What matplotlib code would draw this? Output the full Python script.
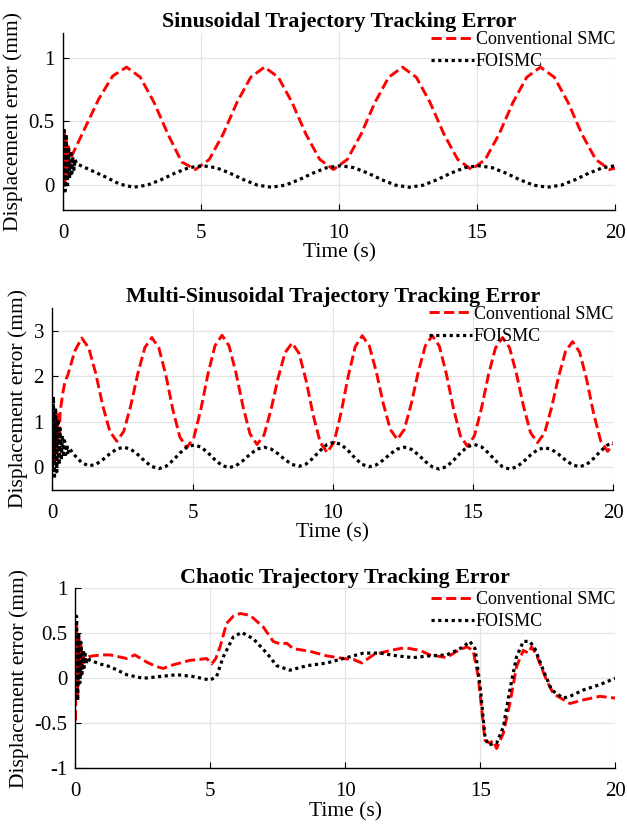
import numpy as np
import matplotlib
matplotlib.use("Agg")
import matplotlib.pyplot as plt
from matplotlib.ticker import FuncFormatter

plt.rcParams['font.family'] = 'Liberation Serif'
plt.rcParams['axes.unicode_minus'] = False

# ---------------- Sinusoidal trajectory ----------------
sin_red_chat = [0.0, 0.45, 0.03, 0.38, 0.08, 0.30, 0.15]
sin_red = [0.22, 0.45, 0.68, 0.86, 0.93, 0.85, 0.65, 0.40, 0.18, 0.12,
           0.20, 0.40, 0.65, 0.85, 0.93, 0.85, 0.65, 0.40, 0.20, 0.12,
           0.20, 0.40, 0.65, 0.85, 0.93, 0.85, 0.65, 0.40, 0.20, 0.12,
           0.20, 0.40, 0.65, 0.85, 0.93, 0.85, 0.65, 0.40, 0.20, 0.12]
sin_red_end = 0.13

sin_blk_chat = [0.0, 0.43, -0.05, 0.40, 0.0, 0.30, 0.05, 0.27, 0.09, 0.22, 0.12, 0.20, 0.17]
sin_blk = [0.16, 0.11, 0.06, 0.005, -0.02, -0.004, 0.039, 0.091, 0.134, 0.15,
           0.134, 0.091, 0.039, -0.004, -0.02, -0.004, 0.039, 0.091, 0.134, 0.15,
           0.134, 0.091, 0.039, -0.004, -0.02, -0.004, 0.039, 0.091, 0.134, 0.15,
           0.134, 0.091, 0.039, -0.004, -0.02, -0.004, 0.039, 0.091, 0.134]
sin_blk_end = 0.149

# ---------------- Multi-sinusoidal trajectory ----------------
multi_red_chat = [0.0, 1.25, 0.1, 1.2, 0.35, 1.15, 0.6, 1.22]
multi_red_rise_t = [0.38, 0.45]
multi_red_rise = [1.65, 1.88]
multi_red = [2.02, 2.55, 2.84,
             2.62, 2.06, 1.35, 0.79, 0.57,
             0.79, 1.36, 2.06, 2.63, 2.85,
             2.62, 2.02, 1.26, 0.66, 0.43,
             0.66, 1.28, 2.05, 2.67, 2.90,
             2.67, 2.07, 1.33, 0.73, 0.50,
             0.71, 1.27, 1.96, 2.52, 2.73,
             2.50, 1.90, 1.15, 0.55, 0.32,
             0.56, 1.21, 2.00, 2.65, 2.89,
             2.67, 2.10, 1.40, 0.83, 0.61,
             0.83, 1.40, 2.10, 2.67, 2.89,
             2.66, 2.05, 1.30, 0.69, 0.46,
             0.69, 1.29, 2.03, 2.62, 2.85,
             2.63, 2.05, 1.34, 0.76, 0.54,
             0.75, 1.31, 1.99, 2.55, 2.76,
             2.53, 1.93, 1.18, 0.58, 0.35]
multi_red_end = 0.50

multi_blk_chat = [0.0, 1.55, -0.2, 1.3, -0.1, 1.05, 0.05, 0.85, 0.15, 0.7, 0.22, 0.58,
                  0.28, 0.5, 0.32, 0.42]
multi_blk = [0.26, 0.10, 0.03,
             0.06, 0.165, 0.295, 0.40, 0.44,
             0.395, 0.278, 0.132, 0.015, -0.03,
             0.019, 0.149, 0.311, 0.441, 0.49,
             0.443, 0.318, 0.163, 0.038, -0.01,
             0.033, 0.145, 0.285, 0.397, 0.44,
             0.40, 0.295, 0.165, 0.06, 0.02,
             0.07, 0.203, 0.367, 0.50, 0.55,
             0.499, 0.364, 0.196, 0.061, 0.01,
             0.051, 0.158, 0.292, 0.399, 0.44,
             0.394, 0.274, 0.126, 0.006, -0.04,
             0.011, 0.146, 0.314, 0.449, 0.50,
             0.449, 0.314, 0.146, 0.011, -0.04,
             0.005, 0.122, 0.268, 0.385, 0.43,
             0.39, 0.285, 0.155, 0.05, 0.01,
             0.06, 0.193, 0.357, 0.49]
multi_blk_end = 0.535

# ---------------- Chaotic trajectory ----------------
chaos_red_t = [0.0, 0.04, 0.08, 0.12, 0.16, 0.20, 0.24, 0.28, 0.32, 0.40, 0.50,
               0.66, 1.0, 1.28, 1.6, 1.9, 2.2, 2.64, 3.0, 3.25,
               3.62, 4.0, 4.24, 4.6, 4.86, 5.05, 5.2, 5.36, 5.6, 5.85, 6.1, 6.47, 6.96, 7.33,
               7.6, 7.83, 8.07, 8.69, 9.31, 9.93, 10.3, 10.61, 11.04, 11.66, 12.21, 12.77,
               13.14, 13.76, 14.13, 14.5, 14.74, 14.93, 15.18, 15.36, 15.48, 15.61, 15.86,
               16.1, 16.35, 16.6, 16.79, 16.91, 17.09, 17.46, 17.71, 18.33, 18.82, 19.44, 20.0]
chaos_red = [-0.47, 0.65, -0.20, 0.45, 0.0, 0.36, 0.12, 0.30, 0.18, 0.22, 0.24,
             0.25, 0.26, 0.26, 0.24, 0.22, 0.26, 0.18, 0.13, 0.11,
             0.15, 0.18, 0.20, 0.21, 0.22, 0.16, 0.22, 0.35, 0.61, 0.69, 0.72, 0.70, 0.57, 0.41,
             0.38, 0.39, 0.33, 0.30, 0.25, 0.22, 0.21, 0.17, 0.26, 0.31, 0.34, 0.31,
             0.26, 0.23, 0.30, 0.35, 0.31, 0.02, -0.69, -0.72, -0.69, -0.78, -0.61,
             -0.28, 0.13, 0.31, 0.28, 0.35, 0.26, -0.02, -0.17, -0.28, -0.24, -0.20, -0.22]

chaos_blk_t = [0.0, 0.04, 0.08, 0.12, 0.16, 0.20, 0.24, 0.28, 0.32, 0.36, 0.40, 0.45,
               0.54, 0.9, 1.28, 1.9, 2.51, 3.13, 3.75, 4.37, 4.99, 5.23,
               5.48, 5.85, 6.16, 6.59, 7.09, 7.46, 7.95, 8.57, 9.31, 9.93, 10.67, 11.29, 11.9,
               12.52, 13.14, 13.76, 14.13, 14.37, 14.62, 14.81, 15.0, 15.18, 15.3, 15.61, 15.86,
               16.1, 16.35, 16.6, 16.84, 17.03, 17.34, 17.65, 18.08, 18.33, 18.82, 19.44, 20.0]
chaos_blk = [0.0, 0.69, -0.25, 0.50, -0.05, 0.40, 0.05, 0.32, 0.12, 0.27, 0.16, 0.23,
             0.20, 0.16, 0.13, 0.04, 0.0, 0.02, 0.04, 0.02, -0.02, 0.02,
             0.24, 0.46, 0.51, 0.44, 0.28, 0.14, 0.09, 0.14, 0.17, 0.22, 0.28, 0.28, 0.25,
             0.23, 0.25, 0.26, 0.31, 0.35, 0.41, 0.33, -0.09, -0.65, -0.74, -0.72, -0.54,
             -0.13, 0.24, 0.41, 0.41, 0.33, 0.09, -0.13, -0.22, -0.20, -0.13, -0.07, 0.0]

# sample times for the regular parts
t1r = np.concatenate([np.linspace(0, 0.24, len(sin_red_chat)), np.linspace(0.3, 19.8, len(sin_red)), [20.0]])
y1r = sin_red_chat + sin_red + [sin_red_end]
t1b = np.concatenate([np.linspace(0, 0.48, len(sin_blk_chat)), np.linspace(0.55, 19.55, len(sin_blk)), [20.0]])
y1b = sin_blk_chat + sin_blk + [sin_blk_end]

t2r = np.concatenate([np.linspace(0, 0.28, len(multi_red_chat)), multi_red_rise_t,
                      np.linspace(0.55, 19.8, len(multi_red)), [20.0]])
y2r = multi_red_chat + multi_red_rise + multi_red + [multi_red_end]
t2b = np.concatenate([np.linspace(0, 0.6, len(multi_blk_chat)), np.linspace(0.8, 19.8, len(multi_blk)), [20.0]])
y2b = multi_blk_chat + multi_blk + [multi_blk_end]

panels = [
    dict(pos=[0.1005, 0.7455, 0.8804, 0.2145], title='Sinusoidal Trajectory Tracking Error',
         tr=t1r, yr=y1r, tb=t1b, yb=y1b, ylim=(-0.2, 1.2), yticks=[0, 0.5, 1], leg_y=1.012),
    dict(pos=[0.0834, 0.4061, 0.8947, 0.2206], title='Multi-Sinusoidal Trajectory Tracking Error',
         tr=t2r, yr=y2r, tb=t2b, yb=y2b, ylim=(-0.5, 3.5), yticks=[0, 1, 2, 3], leg_y=1.012),
    dict(pos=[0.1204, 0.0687, 0.8605, 0.2182], title='Chaotic Trajectory Tracking Error',
         tr=chaos_red_t, yr=chaos_red, tb=chaos_blk_t, yb=chaos_blk, ylim=(-1, 1),
         yticks=[-1, -0.5, 0, 0.5, 1], leg_y=0.985),
]

fig = plt.figure(figsize=(6.27, 8.25), dpi=100)
for p in panels:
    ax = fig.add_axes(p['pos'])
    ax.plot(p['tr'], p['yr'], color='#ff0000', ls=(0, (3.5, 1.5)), lw=2.1, label='Conventional SMC')
    ax.plot(p['tb'], p['yb'], color='black', ls=(0, (1, 1.1)), lw=2.3, label='FOISMC')
    ax.set_xlim(0, 20)
    ax.set_ylim(*p['ylim'])
    ax.set_xticks([0, 5, 10, 15, 20])
    ax.set_yticks(p['yticks'])
    ax.yaxis.set_major_formatter(FuncFormatter(lambda v, pos: '%g' % v))
    ax.grid(True, color='#e3e3e3', lw=0.9)
    ax.set_axisbelow(True)
    for s in ['top', 'right']:
        ax.spines[s].set_visible(False)
    for s in ['left', 'bottom']:
        ax.spines[s].set_linewidth(1.0)
    ax.tick_params(direction='in', length=4, labelsize=15)
    ax.tick_params(axis='x', pad=10)
    ax.tick_params(axis='y', pad=6)
    ax.set_xlabel('Time (s)', fontsize=15.5, labelpad=0.5)
    ax.set_ylabel('Displacement error (mm)', fontsize=15.5, labelpad=4)
    ax.set_title(p['title'], fontsize=15.8, fontweight='bold', pad=4)
    ax.legend(loc='upper right', bbox_to_anchor=(1.0, p['leg_y']), frameon=False, fontsize=13,
              handlelength=2.4, handletextpad=0.1, labelspacing=0.3, borderaxespad=0, borderpad=0)

fig.savefig('out.png', dpi=100)
